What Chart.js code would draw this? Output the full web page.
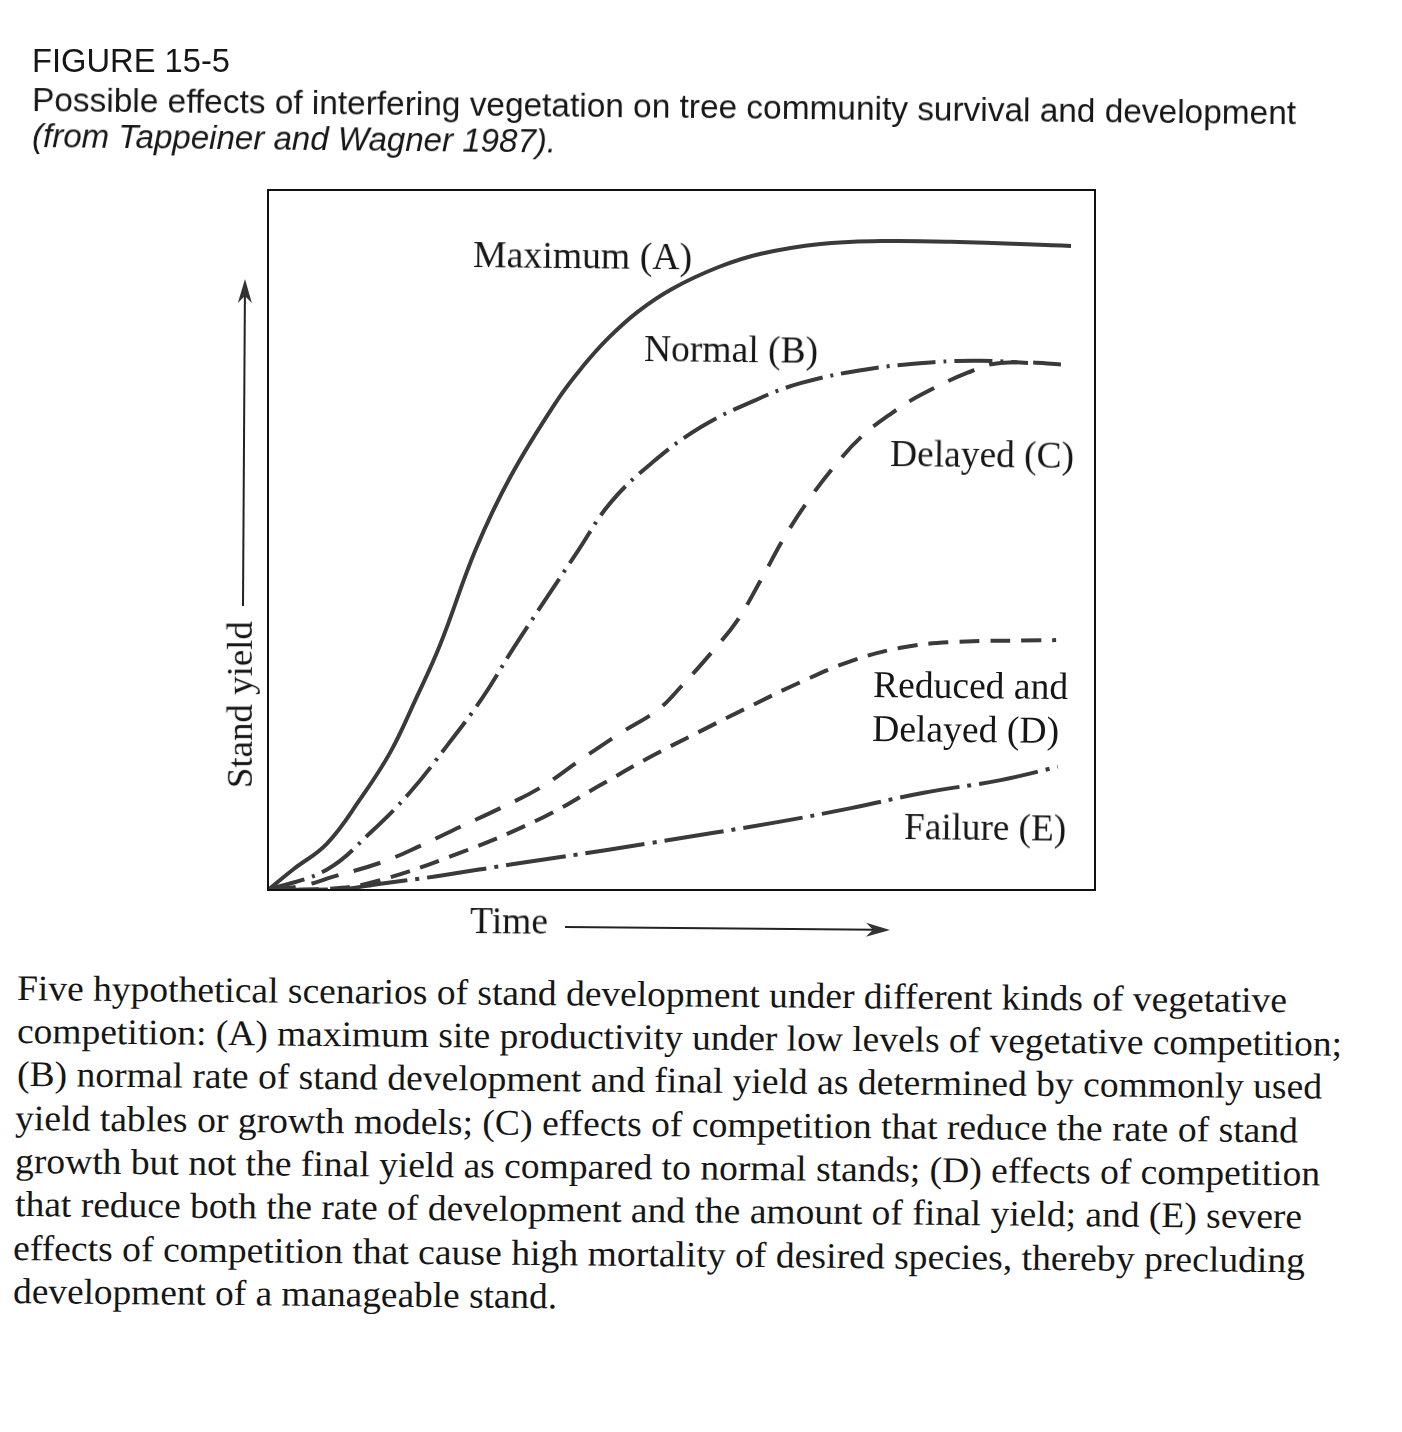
<!DOCTYPE html>
<html><head><meta charset="utf-8">
<script src="https://cdn.jsdelivr.net/npm/chart.js@4"></script>
<style>
html,body{margin:0;padding:0;background:#fff;width:1402px;height:1432px;overflow:hidden;}
#wrap{position:relative;width:1402px;height:1432px;}
#c{position:absolute;left:0;top:0;}
.t{position:absolute;white-space:nowrap;line-height:1;color:#161616;}
</style></head><body><div id="wrap"><canvas id="c" width="1402" height="960"></canvas></div>
<script>
// ---- data (time / yield, arbitrary units 0-100) ----
const timeA  = [0,3.0,7.1,11.1,14.8,17.8,20.8,25.1,29.3,35.0,38.0,41.2,44.7,48.9,54.5,59.6,66.8,74.1,82.6,97.1];
const yieldA = [0,2.9,6.6,12.9,19.7,27.1,35.0,48.6,59.0,70.0,74.7,78.9,82.6,85.9,89.0,90.9,92.3,92.7,92.6,92.0];
const timeB  = [0,7.1,12.3,17.2,21.7,25.9,29.7,33.5,37.4,41.4,46.5,52.3,58.4,64.4,72.5,80.5,86.2,91.9];
const yieldB = [0,2.9,8.1,14.0,20.7,27.4,34.6,41.4,48.3,55.3,61.1,66.1,69.7,72.4,74.4,75.4,75.6,75.3];
const timeC  = [0,4.2,7.9,13.6,18.4,23.2,28.1,32.9,37.8,42.6,47.1,49.9,53.9,56.8,59.6,62.6,65.6,68.6,71.7,75.4,78.9,84.6,88.6,97.5];
const yieldC = [0,0.6,1.9,3.9,6.3,9.0,11.7,14.6,18.6,22.4,25.7,29.0,34.3,38.6,44.3,50.7,56.1,60.7,64.7,68.1,70.7,73.9,75.3,75.0];
const timeD  = [0,6.3,12.3,23.2,33.3,40.2,46.2,52.3,58.4,64.4,70.5,76.5,82.6,95.3];
const yieldD = [0,0.1,1.0,5.3,10.4,15.0,19.0,22.7,26.3,29.7,32.7,34.6,35.4,35.7];
const timeE  = [0,8.7,13.6,20.0,29.7,35.4,46.2,61.6,70.5,79.3,88.6,95.5];
const yieldE = [0,0.1,0.9,1.9,3.7,4.7,6.7,9.7,11.7,13.9,15.7,17.6];
const seriesNames = ["Maximum (A)","Normal (B)","Delayed (C)","Reduced and Delayed (D)","Failure (E)"];
// label lines and their anchor (time, yield) of the left baseline
const labelLines = ["Maximum (A)","Normal (B)","Delayed (C)","Reduced and","Delayed (D)","Failure (E)"];
const labelTime  = [24.8,45.5,75.2,73.1,73.0,76.9];
const labelYield = [89.0,75.6,60.6,27.6,21.3,7.3];
const axisY = "Stand yield", axisX = "Time";
const figTitle = "FIGURE 15-5";
const figSub = "Possible effects of interfering vegetation on tree community survival and development";
const figSrc = "(from Tappeiner and Wagner 1987).";
const caption = [
"Five hypothetical scenarios of stand development under different kinds of vegetative",
"competition: (A) maximum site productivity under low levels of vegetative competition;",
"(B) normal rate of stand development and final yield as determined by commonly used",
"yield tables or growth models; (C) effects of competition that reduce the rate of stand",
"growth but not the final yield as compared to normal stands; (D) effects of competition",
"that reduce both the rate of development and the amount of final yield; and (E) severe",
"effects of competition that cause high mortality of desired species, thereby precluding",
"development of a manageable stand."];

const pts = (xs, ys) => xs.map((x,i)=>({x:x, y:ys[i]}));
const lineCol = '#3a3a3a';
function ds(label, xs, ys, dash){
  return {label, data: pts(xs,ys), showLine:true, borderColor:lineCol, borderWidth:4,
    borderDash:dash, borderCapStyle:'butt', pointRadius:0, tension:0.4, fill:false};
}

function arrow(ctx, x1,y1,x2,y2){
  ctx.save();
  ctx.strokeStyle='#222'; ctx.fillStyle='#333'; ctx.lineWidth=2;
  const a=Math.atan2(y2-y1,x2-x1);
  ctx.beginPath(); ctx.moveTo(x1,y1); ctx.lineTo(x2-14*Math.cos(a),y2-14*Math.sin(a)); ctx.stroke();
  ctx.translate(x2,y2); ctx.rotate(a);
  ctx.beginPath(); ctx.moveTo(0,0); ctx.lineTo(-24,-7); ctx.lineTo(-17,0); ctx.lineTo(-24,7); ctx.closePath(); ctx.fill();
  ctx.restore();
}

const frame = {
  id:'frame',
  afterDraw(chart){
    const {ctx, chartArea:a} = chart;
    ctx.save();
    ctx.strokeStyle='#111'; ctx.lineWidth=2;
    ctx.strokeRect(a.left, a.top, a.right-a.left, a.bottom-a.top);
    ctx.restore();
    arrow(ctx, 243, 606, 245, 279);
    arrow(ctx, 565, 927, 890, 930);
  }
};

const chart = new Chart(document.getElementById('c'), {
  type:'scatter',
  data:{datasets:[
    ds(seriesNames[0], timeA, yieldA, []),
    ds(seriesNames[1], timeB, yieldB, [38,8,3,8]),
    ds(seriesNames[2], timeC, yieldC, [28,16]),
    ds(seriesNames[3], timeD, yieldD, [20,11]),
    ds(seriesNames[4], timeE, yieldE, [60,8,4,8])
  ]},
  options:{
    responsive:false, animation:false, devicePixelRatio:1,
    layout:{padding:{left:268, top:190, right:1402-1095, bottom:960-890}},
    scales:{x:{type:'linear',min:0,max:100,display:false}, y:{type:'linear',min:0,max:100,display:false}},
    plugins:{legend:{display:false}, tooltip:{enabled:false}},
    elements:{line:{borderJoinStyle:'round', capBezierPoints:true}}
  },
  plugins:[frame]
});

// ---- real text placement ----
const wrap = document.getElementById('wrap');
function place(text, o){
  const s = document.createElement('span');
  s.className='t'; s.textContent=text;
  s.style.fontFamily = o.family; s.style.fontSize = o.size+'px';
  if (o.italic) s.style.fontStyle='italic';
  s.style.left='0px'; s.style.top='0px';
  wrap.appendChild(s);
  const w = s.getBoundingClientRect().width;
  const sc = o.width ? o.width/w : 1;
  const ratio = o.family.indexOf('Serif')>=0 ? 0.8375 : 0.8465;
  const off = ratio*o.size;
  s.style.left = o.x+'px';
  s.style.top = (o.y-off)+'px';
  s.style.transformOrigin = '0px '+off+'px';
  s.style.transform = 'rotate('+(o.angle||0)+'deg) scaleX('+sc+')';
  return s;
}
const SANS='"Liberation Sans", Arial, sans-serif', SERIF='"Liberation Serif", "Times New Roman", serif';
place(figTitle,{x:32,y:72,size:34,family:SANS,width:198});
place(figSub,{x:32,y:111,size:33,family:SANS,width:1264,angle:0.6});
place(figSrc,{x:32,y:147,size:33,family:SANS,width:524,italic:true,angle:0.6});
const capX=[17,17,17,15,15,15,13,13], capW=[1270,1325,1305,1283,1305,1287,1292,544];
caption.forEach((l,i)=>place(l,{x:capX[i],y:1000+i*43.3,size:36,family:SERIF,width:capW[i],angle:0.55}));

const labW=[219,174,184,195,187,162];
const xs=chart.scales.x, ys=chart.scales.y;
labelLines.forEach((l,i)=>place(l,{x:xs.getPixelForValue(labelTime[i]), y:ys.getPixelForValue(labelYield[i]), size:38, family:SERIF, width:labW[i], angle:0.6}));
place(axisX,{x:470,y:933,size:37,family:SERIF,width:78,angle:0.5});
place(axisY,{x:252,y:788,size:36,family:SERIF,width:167,angle:-90});
</script></body></html>
